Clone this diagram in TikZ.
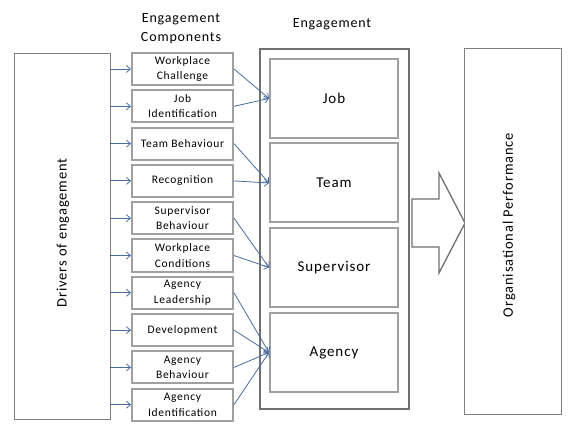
\documentclass[tikz,border=0pt]{standalone}
\usepackage{fontspec}
\setmainfont{Carlito}[LetterSpace=6]
\usetikzlibrary{arrows.meta}
\definecolor{conn}{RGB}{74,108,158}
\definecolor{boxgray}{RGB}{128,128,128}
\definecolor{compgray}{RGB}{160,160,160}
\definecolor{outgray}{RGB}{112,112,112}
\begin{document}
\begin{tikzpicture}[x=1pt,y=-1pt,
  bigbox/.style={draw=boxgray,line width=1.3pt,fill=white},
  compbox/.style={draw=compgray,line width=2pt,fill=white,minimum width=101pt,minimum height=32pt,inner sep=0pt,align=center,font=\fontsize{11.5}{15.5}\selectfont},
  engbox/.style={draw=compgray,line width=2pt,fill=white,minimum width=128pt,minimum height=79pt,inner sep=0pt,font=\fontsize{15}{18}\selectfont},
  conn/.style={draw=conn,line width=0.8pt,-{Straight Barb[length=4pt,width=7pt]}},
  biglabel/.style={rotate=90,font=\fontsize{14.5}{17}\selectfont},
  heading/.style={font=\fontsize{14}{19}\selectfont,align=center}]
\useasboundingbox (0,0) rectangle (577,427);
% left box
\node[bigbox,minimum width=96pt,minimum height=366pt,inner sep=0pt,anchor=north west] (drv) at (14,53) {};
\node[biglabel] (drvt) at (63,233) {Drivers of engagement};
% headings
\node[heading] (hcomp) at (181,29) {Engagement\\Components};
\node[heading] (heng) at (332,24) {Engagement};
% component boxes
\foreach \i/\t in {1/{Workplace\\Challenge},2/{Job\\Identification},3/{Team Behaviour},4/{Recognition},5/{Supervisor\\Behaviour},6/{Workplace\\Conditions},7/{Agency\\Leadership},8/{Development},9/{Agency\\Behaviour},10/{Agency\\Identification}}{
  \node[compbox] (c\i) at (182.5,{69+(\i-1)*37.3}) {\t};
  \coordinate (s\i) at (110,{69+(\i-1)*37.3});
  \draw[conn] (s\i) -- (c\i.west);
}
% engagement outer box
\node[draw=outgray,line width=1.8pt,minimum width=149pt,minimum height=360pt,inner sep=0pt,anchor=north west] (eng) at (259,48) {};
\node[engbox] (job) at (334,98.5) {Job};
\node[engbox] (team) at (334,183) {Team};
\node[engbox] (sup) at (334,267.5) {Supervisor};
\node[engbox] (agc) at (334,352.5) {Agency};
% connectors
\draw[conn] (c1.east) -- (job.west);
\draw[conn] (c2.east) -- (job.west);
\draw[conn] (c3.east) -- (team.west);
\draw[conn] (c4.east) -- (team.west);
\draw[conn] (c5.east) -- (sup.west);
\draw[conn] (c6.east) -- (sup.west);
\draw[conn] (c7.east) -- (agc.west);
\draw[conn] (c8.east) -- (agc.west);
\draw[conn] (c9.east) -- (agc.west);
\draw[conn] (c10.east) -- (agc.west);
% big arrow
\draw[draw=outgray,line width=1.3pt,fill=white,line join=miter]
  (412,199) -- (439,199) -- (439,173) -- (465,223) -- (439,273) -- (439,247) -- (412,247) -- cycle;
% right box
\node[bigbox,minimum width=97pt,minimum height=366pt,inner sep=0pt,anchor=north west] (perf) at (464,48) {};
\node[biglabel] (perft) at (509,225) {Organisational Performance};
\end{tikzpicture}
\end{document}
